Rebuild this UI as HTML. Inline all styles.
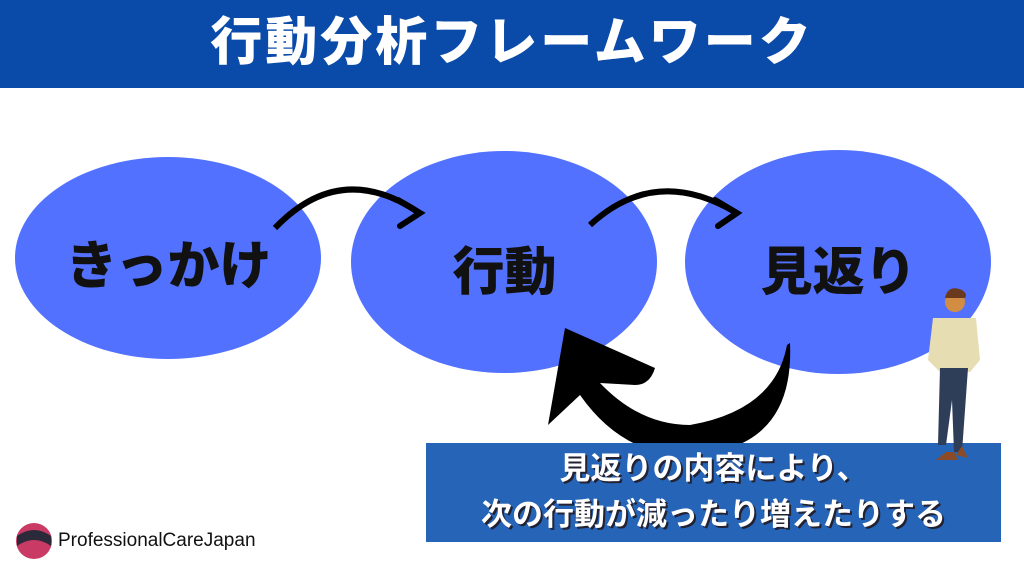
<!DOCTYPE html>
<html><head><meta charset="utf-8"><style>
body{margin:0;width:1024px;height:576px;overflow:hidden;background:#fff;position:relative;font-family:"Liberation Sans","Noto Sans CJK JP",sans-serif}
.hdr{position:absolute;left:0;top:0;width:1024px;height:88px;background:#0a4aa8;color:#fff;font-weight:900;font-size:52px;text-align:center;line-height:86px;letter-spacing:3px}
.lbl{position:absolute;font-weight:900;font-size:52px;color:#111;text-align:center}
.box{position:absolute;left:426px;top:443px;width:575px;height:99px;background:#2664b8;color:#fff;font-weight:700;font-size:31px;text-align:center;line-height:46px;padding-top:3px;box-sizing:border-box;text-shadow:2px 2px 0 #223;}
.logo{position:absolute;left:58px;top:530px;font-size:19px;color:#111}
</style></head><body>
<div class="hdr">行動分析フレームワーク</div>
<svg width="1024" height="576" style="position:absolute;left:0;top:0">
<ellipse cx="168" cy="258" rx="153" ry="101" fill="#5271ff"/>
<ellipse cx="504" cy="262" rx="153" ry="111" fill="#5271ff"/>
<ellipse cx="838" cy="262" rx="153" ry="112" fill="#5271ff"/>
<path d="M275 228 Q340 160 418 212" stroke="#000" stroke-width="6" fill="none"/>
<path d="M398 200 L420 213 L400 226" stroke="#000" stroke-width="6" fill="none" stroke-linecap="round"/>
<path d="M590 225 Q655 165 735 212" stroke="#000" stroke-width="6" fill="none"/>
<path d="M715 200 L737 213 L718 226" stroke="#000" stroke-width="6" fill="none" stroke-linecap="round"/>
<path d="M790 343 Q795 455 680 455 Q620 452 580 395 L548 425 L565 328 L655 368 Q650 385 635 385 L600 383 Q640 425 690 425 Q775 410 787 345 Z" fill="#000"/>
</svg>
<div class="lbl" style="left:16px;width:305px;top:224px">きっかけ</div>
<div class="lbl" style="left:352px;width:305px;top:230px">行動</div>
<div class="lbl" style="left:686px;width:305px;top:230px">見返り</div>
<div class="box">見返りの内容により、<br>次の行動が減ったり増えたりする</div>
<svg width="1024" height="576" style="position:absolute;left:0;top:0">
<circle cx="955" cy="302" r="10" fill="#d38d43"/>
<path d="M945 298 Q948 284 962 290 Q968 294 965 298 Z" fill="#6b3a1e"/>
<path d="M933 318 L976 318 L980 360 L970 372 L940 372 L928 360 Z" fill="#e6ddb3"/>
<path d="M940 368 L968 368 L962 452 L954 452 L952 400 L946 445 L938 445 Z" fill="#2e3d58"/>
<path d="M936 460 L958 460 L954 452 L946 452 Z" fill="#8a4b26"/>
<path d="M956 455 L968 458 L962 446 Z" fill="#8a4b26"/>
<circle cx="34" cy="541" r="18" fill="#c93a64"/>
<path d="M17 536 Q34 524 51 536 L51 546 Q34 534 17 546 Z" fill="#2a2a3a"/>
</svg>
<div class="logo">ProfessionalCareJapan</div>
</body></html>
